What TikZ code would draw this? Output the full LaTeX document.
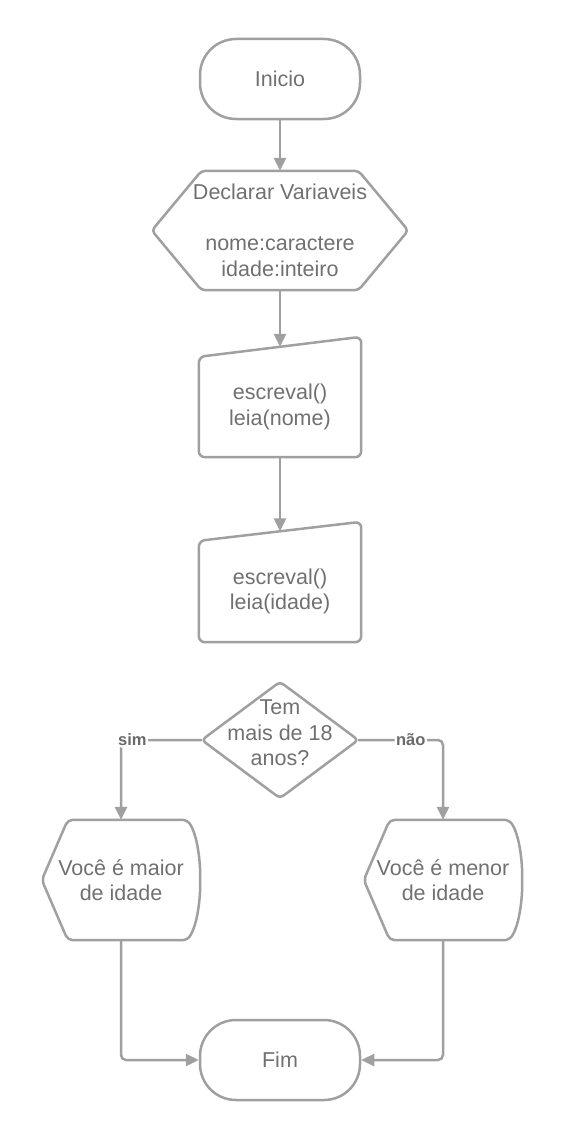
\documentclass[tikz,border=0pt]{standalone}
\usepackage{fontspec}
\setmainfont{Liberation Sans}
\usetikzlibrary{arrows.meta,calc}
\definecolor{linec}{HTML}{A0A0A0}
\definecolor{textc}{HTML}{707070}
\definecolor{lblc}{HTML}{6A6A6A}
\begin{document}
\begin{tikzpicture}[x=1pt,y=-1pt,
  every node/.style={text=textc,font=\fontsize{21.5}{25.5}\selectfont,align=center,inner sep=0pt},
  outline/.style={draw=linec,line width=2.5pt,line join=round},
  term/.style={outline,rectangle,rounded corners=36pt,minimum width=160pt,minimum height=80pt},
  box/.style={rectangle,minimum width=162pt,minimum height=100pt},
  disp/.style={rectangle,minimum width=158pt,minimum height=120pt},
  conn/.style={draw=linec,line width=2.5pt,-{Triangle[length=13pt,width=12pt]},rounded corners=5pt},
  lbl/.style={fill=white,text=lblc,font=\fontsize{16.5}{18}\selectfont\bfseries,inner sep=1.5pt}
]
\useasboundingbox (0,0) rectangle (561,1140);

% nodes
\node[term] (start) at (280,79) {Inicio};
\node[rectangle,minimum width=256pt,minimum height=119pt] (decl) at (280,230.5)
  {Declarar Variaveis\\[25.5pt]nome:caractere\\idade:inteiro};
\node[box] (in1) at (280,407) {escreval()\\leia(nome)};
\node[box,minimum height=101pt] (in2) at (280,591.5) {escreval()\\leia(idade)};
\node[rectangle,minimum width=156pt,minimum height=116pt] (dec) at (280,740) {};
\node[disp] (yes) at (121,880) {Você é maior\\de idade};
\node[disp] (no) at (443,880) {Você é menor\\de idade};
\node[term] (end) at (280,1060) {Fim};

% decision text
\node[anchor=center] (dectext) at ([yshift=7pt]dec.center) {Tem\\mais de 18\\anos?};

% outlines
\draw[outline,rounded corners=4pt]
  ([xshift=-78.5pt]decl.north) -- ([xshift=78.5pt]decl.north) -- (decl.east)
  -- ([xshift=78.5pt]decl.south) -- ([xshift=-78.5pt]decl.south) -- (decl.west) -- cycle;
\draw[outline,rounded corners=6pt]
  (in1.south west) -- (in1.north west) -- ([yshift=20pt]in1.north east) -- (in1.south east) -- cycle;
\draw[outline,rounded corners=6pt]
  (in2.south west) -- (in2.north west) -- ([yshift=19pt]in2.north east) -- (in2.south east) -- cycle;
\draw[outline,rounded corners=4pt]
  (dec.north) -- (dec.east) -- (dec.south) -- (dec.west) -- cycle;
\foreach \n in {yes,no}{
  \draw[outline,rounded corners=5pt]
    (\n.west) -- ([xshift=26pt]\n.north west) -- ([xshift=-13pt]\n.north east)
    .. controls ([xshift=-3pt,yshift=-15pt]\n.north east) and ([yshift=20pt]\n.east) .. (\n.east)
    .. controls ([yshift=-20pt]\n.east) and ([xshift=-3pt,yshift=15pt]\n.south east) .. ([xshift=-13pt]\n.south east)
    -- ([xshift=26pt]\n.south west) -- cycle;
}

% connector end points
\coordinate (in1top) at ([yshift=10pt]in1.north);
\coordinate (in2top) at ([yshift=9.5pt]in2.north);

% connectors
\draw[conn] (start.south) -- (decl.north);
\draw[conn] (decl.south) -- (in1top);
\draw[conn] (in1.south) -- (in2top);
\draw[conn] (dec.west) -- node[lbl,pos=0.86] (sim) {sim} (yes.north |- dec.west) -- (yes.north);
\draw[conn] (dec.east) -- node[lbl,pos=0.62] (nao) {não} (no.north |- dec.east) -- (no.north);
\draw[conn] (yes.south) -- (yes.south |- end.west) -- (end.west);
\draw[conn] (no.south) -- (no.south |- end.east) -- (end.east);
\end{tikzpicture}
\end{document}
